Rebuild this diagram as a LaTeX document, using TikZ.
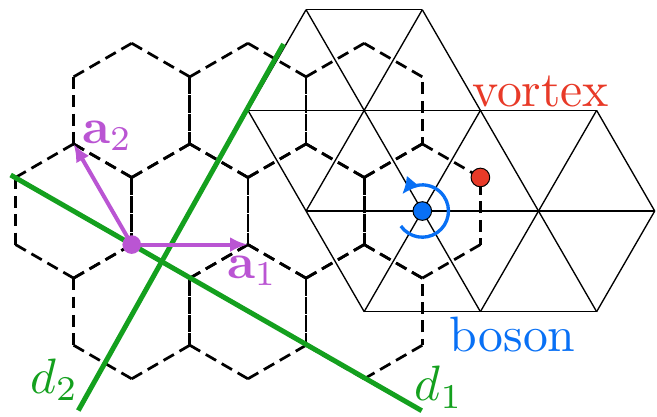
\documentclass[tikz,border=0pt]{standalone}
\usepackage{amsmath,amssymb}
\usepackage{xcolor}
\usepackage{tikz}
\usetikzlibrary{arrows.meta,positioning,calc}

\definecolor{cutgreen}{RGB}{20,160,30}
\definecolor{vecpurple}{RGB}{186,85,211}
\definecolor{vortred}{RGB}{232,58,40}
\definecolor{bosblue}{RGB}{8,112,245}

\begin{document}
\begin{tikzpicture}[
  x=0.4745cm, y=0.4745cm,
  font=\normalsize,
  hexe/.style={draw, line width=0.55pt, dash pattern=on 2.4pt off 1.3pt},
  trie/.style={draw, line width=0.27pt},
  cut/.style={draw=cutgreen, line width=1pt},
  vec/.style={draw=vecpurple, line width=0.8pt, -{Latex[length=3.6pt,width=3pt]}},
  spin/.style={draw=bosblue, line width=0.67pt, -{Latex[length=3.4pt,width=3.4pt]}},
  site/.style={circle, inner sep=0pt, minimum size=3.75pt},
  lbl/.style={inner sep=0pt, anchor=base west},
]
\useasboundingbox (-0.231,-3.055) rectangle (9.560,3.145);
\def\h{0.866}

% triangular lattice (boson sites)
\foreach \ka/\ra/\kb/\rb in {5/2/7/2, 4/1/10/1, 5/0/11/0, 6/-1/10/-1,
                             5/2/8/-1, 7/2/10/-1, 4/1/6/-1, 10/1/11/0,
                             5/2/4/1, 7/2/5/0, 8/1/6/-1, 10/1/8/-1, 11/0/10/-1}
  { \draw[trie] ({\ka*\h},{\ra*1.5}) -- ({\kb*\h},{\rb*1.5}); }

% dual honeycomb lattice (vortex sites)
\foreach \k/\r in {2/1, 4/1, 6/1, 1/0, 3/0, 5/0, 7/0, 2/-1, 4/-1, 6/-1} {
  \coordinate (hc) at ({\k*\h},{\r*1.5});
  \foreach \a in {30,90,210,270} { \draw[hexe] (hc) +(\a:1) -- +(\a+60:1); }
  \draw[hexe] (hc) +(150:1) -- +(210:1);
  \draw[hexe, dash phase=1.1pt] (hc) +(330:1) -- +(390:1);
}

% cuts
\coordinate (d1a) at (-0.072,0.537);
\coordinate (d1b) at (6.054,-2.976);
\coordinate (d2a) at (3.994,2.489);
\coordinate (d2b) at (0.936,-2.973);
\draw[cut] (d1a) -- (d1b);
\draw[cut] (d2a) -- (d2b);
\node[lbl, text=cutgreen] (d1lbl) at (5.935,-2.827) {$d_1$};
\node[lbl, text=cutgreen] (d2lbl) at (0.205,-2.717) {$d_2$};

% lattice vectors
\node[site, fill=vecpurple] (orig) at ({2*\h},-0.5) {};
\coordinate (a1end) at ({4*\h},-0.5);
\coordinate (a2end) at ({1*\h},1);
\draw[vec] (orig.center) -- (a1end);
\draw[vec] (orig.center) -- (a2end);
\node[lbl, text=vecpurple] (a1lbl) at ($(a1end)+(-0.325,-0.503)$) {$\mathbf{a}_1$};
\node[lbl, text=vecpurple] (a2lbl) at ($(a2end)+(0.115,0.01)$) {$\mathbf{a}_2$};

% boson and vortex
\node[site, fill=bosblue, draw=black, line width=0.2pt] (boson) at ({7*\h},0) {};
\node[site, fill=vortred, draw=black, line width=0.2pt] (vortex) at ({8*\h},0.5) {};
\draw[spin] (boson.center) ++(215:0.39) arc[start angle=215, end angle=500, radius=0.39];
\node[anchor=base, inner sep=0pt, text=vortred] (vlbl) at (7.824,1.554) {vortex};
\node[anchor=base, inner sep=0pt, text=bosblue] (blbl) at (7.407,-2.086) {boson};
\end{tikzpicture}
\end{document}
